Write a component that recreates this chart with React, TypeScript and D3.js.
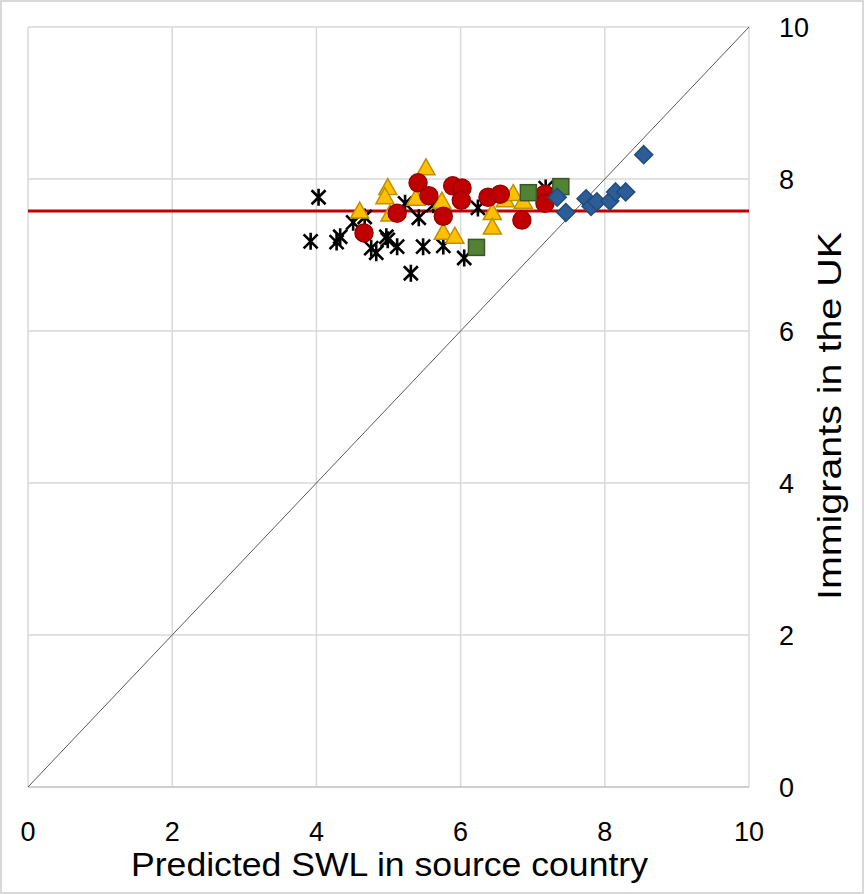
import React from "react";
import * as d3 from "d3";

// ---- data ----
const blackX = [4.03, 3.92, 4.28, 4.33, 4.51, 4.67, 4.76, 4.83, 4.97, 4.99, 5.12, 5.23, 5.31, 5.42, 5.48, 5.62, 5.76, 6.05, 6.24, 7.18];
const blackY = [7.76, 7.18, 7.17, 7.24, 7.43, 7.5, 7.09, 7.03, 7.24, 7.2, 7.11, 7.68, 6.76, 7.49, 7.11, 7.66, 7.12, 6.96, 7.62, 7.88];

const yellowX = [4.6, 4.99, 4.95, 5.02, 5.38, 5.52, 5.74, 5.76, 5.92, 6.44, 6.44, 6.62, 6.73, 6.87];
const yellowY = [7.57, 7.88, 7.76, 7.53, 7.74, 8.14, 7.7, 7.29, 7.24, 7.55, 7.36, 7.72, 7.8, 7.7];

const redX = [4.66, 5.12, 5.41, 5.56, 5.76, 5.89, 6.02, 6.01, 6.38, 6.55, 6.85, 7.17, 7.17];
const redY = [7.29, 7.55, 7.95, 7.78, 7.51, 7.91, 7.88, 7.72, 7.76, 7.8, 7.46, 7.8, 7.68];

const greenX = [6.22, 6.94, 7.39];
const greenY = [7.1, 7.82, 7.9];

const blueX = [7.34, 7.46, 7.74, 7.81, 7.89, 8.07, 8.15, 8.29, 8.54];
const blueY = [7.76, 7.56, 7.74, 7.64, 7.7, 7.71, 7.83, 7.83, 8.32];

const ukMean = 7.58;
const xTicks = [0, 2, 4, 6, 8, 10];
const yTicks = [0, 2, 4, 6, 8, 10];
const xTitle = "Predicted SWL in source country";
const yTitle = "Immigrants in the UK";

const W = 864;
const H = 894;
const FONT = "'Liberation Sans', Arial, sans-serif";

export default function App() {
  const x = d3.scaleLinear().domain([0, 10]).range([28, 749]);
  const y = d3.scaleLinear().domain([0, 10]).range([787, 27]);
  const grid = "#d9d9d9";

  const zip = (xs: number[], ys: number[]) => xs.map((v, i) => [v, ys[i]] as [number, number]);

  const star = (cx: number, cy: number) => {
    const r = 8.5;
    const d = 7;
    return `M${cx - d},${cy - d}L${cx + d},${cy + d}M${cx - d},${cy + d}L${cx + d},${cy - d}M${cx},${cy - r}L${cx},${cy + r}`;
  };
  const tri = (cx: number, cy: number) => {
    const w = 9, h = 16;
    return `M${cx},${cy - h * 0.6}L${cx + w},${cy + h * 0.4}L${cx - w},${cy + h * 0.4}Z`;
  };
  const diamond = (cx: number, cy: number) => {
    const r = 9;
    return `M${cx},${cy - r}L${cx + r},${cy}L${cx},${cy + r}L${cx - r},${cy}Z`;
  };

  return (
    <svg
      width={W}
      height={H}
      style={{ position: "absolute", left: 0, top: 0, background: "#fff" }}
      fontFamily={FONT}
    >
      <rect x={1} y={1} width={W - 2} height={H - 2} fill="#fff" stroke="#d9d9d9" strokeWidth={2} />
      {/* grid */}
      {xTicks.map((t) => (
        <line key={"gx" + t} x1={x(t)} x2={x(t)} y1={y(0)} y2={y(10)} stroke={grid} strokeWidth={1.5} />
      ))}
      {yTicks.map((t) => (
        <line key={"gy" + t} x1={x(0)} x2={x(10)} y1={y(t)} y2={y(t)} stroke={t === 0 ? "#bfbfbf" : grid} strokeWidth={1.5} />
      ))}
      {/* diagonal */}
      <line x1={x(0)} y1={y(0)} x2={x(10)} y2={y(10)} stroke="#595959" strokeWidth={1} />
      {/* UK mean line */}
      <line x1={x(0)} x2={x(10)} y1={y(ukMean)} y2={y(ukMean)} stroke="#c00000" strokeWidth={3} />

      {/* markers */}
      {zip(blackX, blackY).map(([a, b], i) => (
        <path key={"k" + i} d={star(x(a), y(b))} stroke="#000" strokeWidth={2.6} fill="none" />
      ))}
      {zip(yellowX, yellowY).map(([a, b], i) => (
        <path key={"yl" + i} d={tri(x(a), y(b))} fill="#ffc000" stroke="#bf9000" strokeWidth={1.5} />
      ))}
      {zip(redX, redY).map(([a, b], i) => (
        <circle key={"r" + i} cx={x(a)} cy={y(b)} r={9} fill="#c00000" stroke="#990000" strokeWidth={1.5} />
      ))}
      {zip(greenX, greenY).map(([a, b], i) => (
        <rect key={"g" + i} x={x(a) - 8} y={y(b) - 8} width={16} height={16} fill="#548235" stroke="#385723" strokeWidth={1.5} />
      ))}
      {zip(blueX, blueY).map(([a, b], i) => (
        <path key={"b" + i} d={diamond(x(a), y(b))} fill="#2e5c98" stroke="#1f4e79" strokeWidth={1.5} />
      ))}

      {/* x tick labels */}
      {xTicks.map((t) => (
        <text key={"xt" + t} x={x(t)} y={841} textAnchor="middle" fontSize={27} fill="#000">
          {t}
        </text>
      ))}
      {/* y tick labels (right) */}
      {yTicks.map((t) => (
        <text key={"yt" + t} x={779} y={y(t) + 9.5} textAnchor="start" fontSize={27} fill="#000">
          {t}
        </text>
      ))}
      <text x={389.5} y={876} textAnchor="middle" fontSize={34} fill="#000" textLength={517} lengthAdjust="spacingAndGlyphs">
        {xTitle}
      </text>
      <text
        transform={`translate(841,416) rotate(-90)`}
        textAnchor="middle"
        fontSize={34}
        fill="#000"
        textLength={368}
        lengthAdjust="spacingAndGlyphs"
      >
        {yTitle}
      </text>
    </svg>
  );
}
